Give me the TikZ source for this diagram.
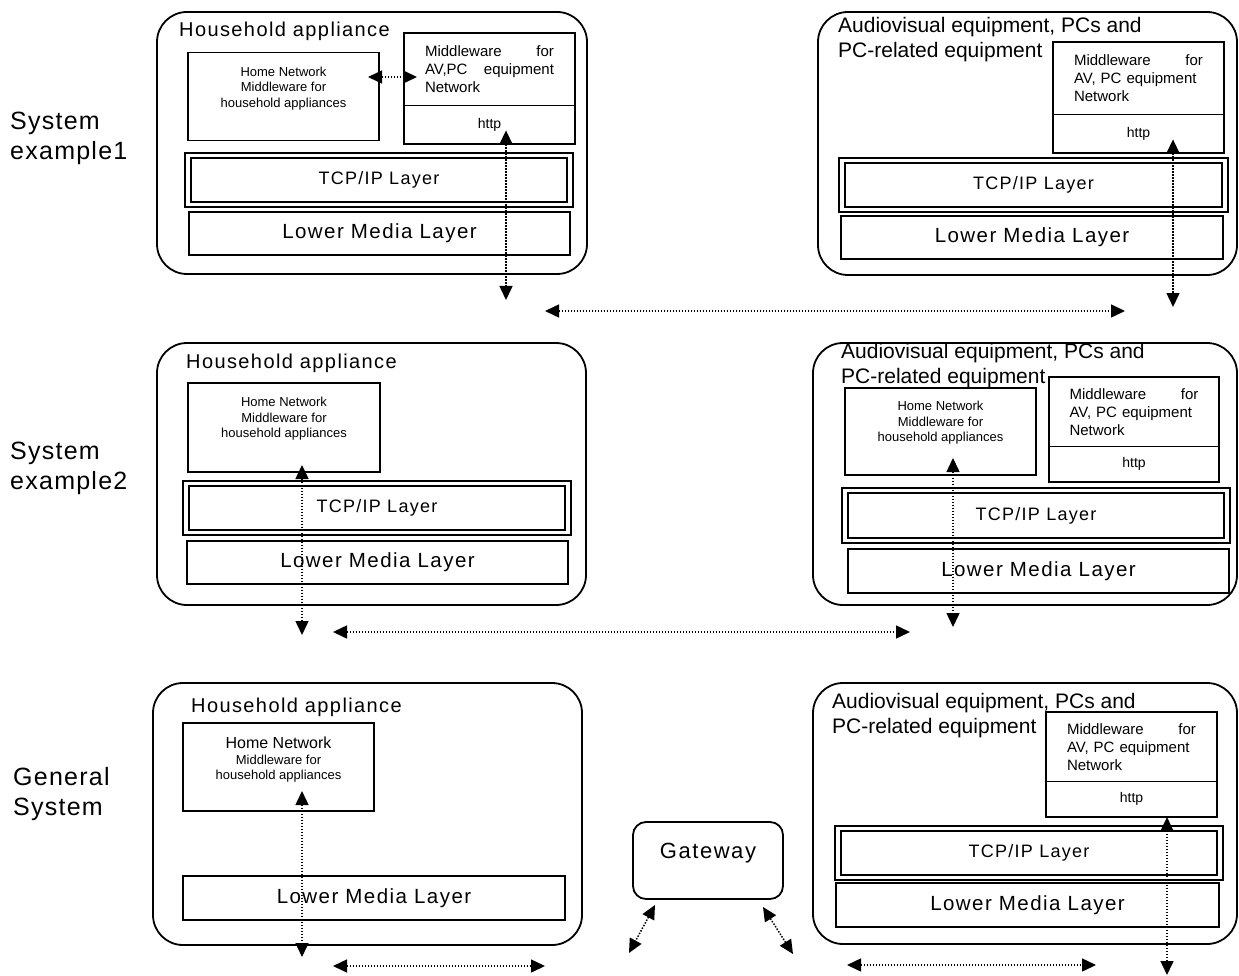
\documentclass[tikz,border=0pt]{standalone}
\usepackage{fontspec}
\setmainfont{Liberation Sans}
\newfontfamily\widefont[LetterSpace=7]{Liberation Sans}
\newfontfamily\sidefont[LetterSpace=5]{Liberation Sans}
\usetikzlibrary{arrows.meta, positioning}
\usetikzlibrary{shapes.multipart}
\usetikzlibrary{calc}

\begin{document}
\begin{tikzpicture}[
  x=1pt, y=-1pt,
  device/.style={rectangle, draw, rounded corners=30pt, line width=1.8pt, inner sep=0pt, outer sep=0pt},
  title/.style={anchor=west, inner sep=0pt, font=\widefont\fontsize{20}{23}\selectfont},
  avtitle/.style={anchor=west, inner sep=0pt, align=left, font=\fontsize{21}{25}\selectfont},
  hnbox/.style={rectangle, draw, line width=1.5pt, minimum width=191pt, minimum height=88pt, outer sep=0pt},
  hntext/.style={inner sep=0pt, align=center, font=\fontsize{13}{15.5}\selectfont},
  mwbox/.style={rectangle split, rectangle split parts=2, draw, line width=1.5pt, anchor=north,
    text width=129pt, align=left, inner xsep=21pt, inner ysep=12pt, outer sep=0pt,
    font=\fontsize{15}{18}\selectfont},
  tcp/.style={rectangle, draw, line width=2.6pt, minimum width=376pt, minimum height=44pt,
    outer sep=0pt, font=\widefont\fontsize{18}{20}\selectfont},
  lower/.style={rectangle, draw, line width=1.6pt, minimum width=381pt, minimum height=43pt,
    outer sep=0pt, font=\widefont\fontsize{20.5}{24}\selectfont},
  gate/.style={rectangle, draw, rounded corners=13pt, line width=1.8pt, minimum width=150pt,
    text height=31pt, text depth=36pt, inner ysep=5pt, outer sep=0pt,
    font=\widefont\fontsize{22}{26}\selectfont},
  side/.style={anchor=west, inner sep=0pt, align=left, font=\sidefont\fontsize{25}{30}\selectfont},
  link/.style={line width=1.5pt, dash pattern=on 1.5pt off 1.5pt, <->, >={Triangle[length=14pt, width=13pt]}}
]
\useasboundingbox (0,0) rectangle (1239,976);

% Row labels
\node[side] (S1) at (10,138) {System\\example1};
\node[side] (S2) at (10,468) {System\\example2};
\node[side] (S3) at (13,794) {General\\System};

% System example1
\node[device, minimum width=430pt, minimum height=262pt] (D1a) at (372,143) {};
\node[title] (D1at) at (179,31) {Household appliance};
\node[hnbox] (N1a) at (283.5,96.5) {};
\node[hntext, below=14pt of N1a.north] (N1at) {Home Network\\Middleware for\\household appliances};
\node[mwbox] (M1a) at (489.5,33) {Middleware\hfill for\\AV,PC\hfill equipment\\Network
  \nodepart{two}\fontsize{14}{16}\selectfont\hfill http\hfill\null};
\node[tcp] (T1a) at (379,180) {TCP/IP Layer};
\node[lower] (L1a) at (379.5,233.5) {Lower Media Layer};

\node[device, minimum width=419pt, minimum height=263pt] (D1b) at (1027.5,143.5) {};
\node[avtitle] (D1bt) at (838,39.5) {Audiovisual equipment, PCs and\\PC-related equipment};
\node[mwbox] (M1b) at (1138.5,42) {Middleware\hfill for\\AV, PC equipment\\Network
  \nodepart{two}\fontsize{14}{16}\selectfont\hfill http\hfill\null};
\node[tcp, minimum width=377pt] (T1b) at (1033.5,185) {TCP/IP Layer};
\node[lower, minimum width=382pt] (L1b) at (1032,237.5) {Lower Media Layer};

% System example2
\node[device, minimum width=429pt, minimum height=262pt] (D2a) at (371.5,474) {};
\node[title] (D2at) at (186,363) {Household appliance};
\node[hnbox, minimum width=192pt, minimum height=89pt] (N2a) at (284,427.5) {};
\node[hntext, below=14pt of N2a.north] (N2at) {Home Network\\Middleware for\\household appliances};
\node[tcp] (T2a) at (377,508) {TCP/IP Layer};
\node[lower] (L2a) at (377.5,562.5) {Lower Media Layer};

\node[device, minimum width=424pt, minimum height=262pt] (D2b) at (1025,474) {};
\node[avtitle] (D2bt) at (841,365.5) {Audiovisual equipment, PCs and\\PC-related equipment};
\node[hnbox, minimum height=87pt] (N2b) at (940.5,431.5) {};
\node[hntext, below=13pt of N2b.north] (N2bt) {Home Network\\Middleware for\\household appliances};
\node[mwbox, inner xsep=20.5pt, inner ysep=10.5pt] (M2b) at (1134,377) {Middleware\hfill for\\AV, PC equipment\\Network
  \nodepart{two}\fontsize{14}{16}\selectfont\hfill http\hfill\null};
\node[tcp, minimum height=45pt] (T2b) at (1036,515.5) {TCP/IP Layer};
\node[lower, minimum height=44pt] (L2b) at (1038.5,571) {Lower Media Layer};

% General System
\node[device, minimum width=429pt, minimum height=262pt] (D3a) at (367.5,814) {};
\node[title] (D3at) at (191,707) {Household appliance};
\node[hnbox] (N3a) at (278.5,767) {};
\node[hntext, below=14pt of N3a.north] (N3at) {{\fontsize{16}{18}\selectfont Home Network}\\Middleware for\\household appliances};
\node[lower, minimum width=382pt, minimum height=44pt] (L3a) at (374,898) {Lower Media Layer};

\node[gate] (G) at (708,860.5) {Gateway};

\node[device, minimum width=424pt, minimum height=261pt] (D3b) at (1025,813.5) {};
\node[avtitle] (D3bt) at (832,715.5) {Audiovisual equipment, PCs and\\PC-related equipment};
\node[mwbox, inner ysep=10.5pt] (M3b) at (1131.5,712) {Middleware\hfill for\\AV, PC equipment\\Network
  \nodepart{two}\fontsize{14}{16}\selectfont\hfill http\hfill\null};
\node[tcp] (T3b) at (1029,853) {TCP/IP Layer};
\node[lower, minimum width=383pt, minimum height=44pt] (L3b) at (1027.5,905) {Lower Media Layer};

% Outer frame of the TCP/IP layers
\foreach \t in {T1a,T1b,T2a,T2b,T3b}
  \draw[line width=1.6pt] ([shift={(-6pt,-5pt)}]\t.south west) rectangle ([shift={(6pt,5pt)}]\t.north east);

% Free ends
\coordinate (E1a) at (506,300);
\coordinate (E1b) at (1173,307);
\coordinate (W1l) at (545,311);
\coordinate (W1r) at (1125,311);
\coordinate (E2a) at (302,635);
\coordinate (E2b) at (953,627);
\coordinate (W2l) at (333,632);
\coordinate (W2r) at (910,632);
\coordinate (E3a) at (302,957);
\coordinate (E3b) at (1167,975);
\coordinate (W3l) at (333,966);
\coordinate (W3r) at (545,966);
\coordinate (W4l) at (847,965);
\coordinate (W4r) at (1096,965);
\coordinate (Ga) at (629,953);
\coordinate (Gb) at (793,954);

% Connections
\draw[link] ($(N1a.east)+(-11pt,19.5pt)$) -- ($(M1a.west |- N1a.east)+(13pt,19.5pt)$);
\draw[link] ($(E1a |- M1a.two)+(0pt,-2pt)$) -- (E1a);
\draw[link] ($(E1b |- M1b.two)+(0pt,-2pt)$) -- (E1b);
\draw[link] (W1l) -- (W1r);

\draw[link] ($(E2a |- N2a.south)+(0pt,7pt)$) -- (E2a);
\draw[link] ($(E2b |- N2b.south)+(0pt,17pt)$) -- (E2b);
\draw[link] (W2l) -- (W2r);

\draw[link] ($(E3a |- N3a.south)+(0pt,20pt)$) -- (E3a);
\draw[link] (E3b |- M3b.south) -- (E3b);
\draw[link] (W3l) -- (W3r);
\draw[link] (W4l) -- (W4r);
\draw[link] ($(G.south west)+(22pt,-6pt)$) -- (Ga);
\draw[link] ($(G.south east)+(-20pt,-8pt)$) -- (Gb);

\end{tikzpicture}
\end{document}
